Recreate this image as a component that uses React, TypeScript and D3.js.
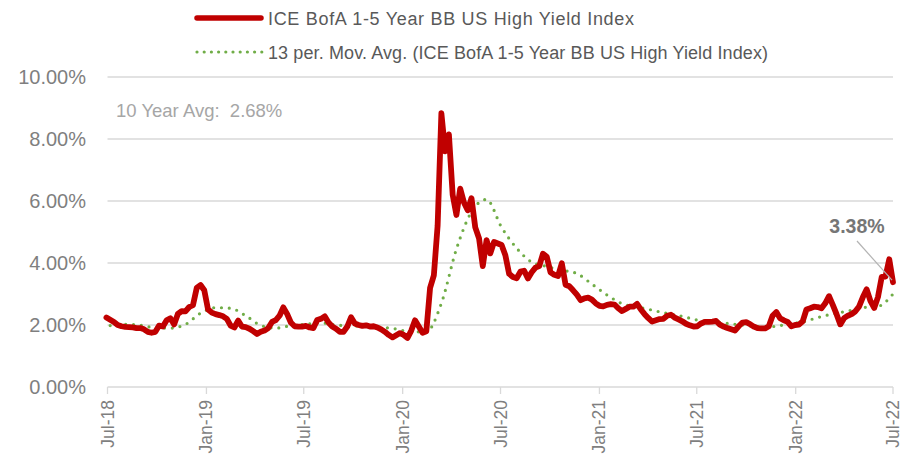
import React from 'react';
import * as d3 from 'd3';

const W = 917;
const H = 464;

// Weekly observations, starting Friday 2018-06-29
const startDate = new Date(2018, 5, 29);
const hyValues: number[] = [
  2.24, 2.17, 2.10, 2.00, 1.96, 1.94, 1.93, 1.92, 1.90, 1.90,
  1.86, 1.78, 1.75, 1.78, 1.98, 1.95, 2.15, 2.22, 2.02, 2.36,
  2.45, 2.44, 2.58, 2.64, 3.20, 3.29, 3.12, 2.50, 2.40, 2.35,
  2.32, 2.28, 2.20, 1.98, 1.92, 2.14, 1.95, 1.93, 1.88, 1.80,
  1.71, 1.78, 1.82, 1.90, 2.10, 2.16, 2.30, 2.57, 2.36, 2.08,
  1.96, 1.95, 1.95, 1.97, 1.92, 1.90, 2.16, 2.20, 2.28, 2.08,
  1.95, 1.88, 1.78, 1.78, 1.95, 2.25, 2.05, 2.00, 1.97, 1.99,
  1.95, 1.96, 1.92, 1.86, 1.78, 1.68, 1.60, 1.67, 1.74, 1.68,
  1.58, 1.82, 2.15, 1.95, 1.75, 1.80, 3.20, 3.60, 5.20, 8.83,
  7.60, 8.15, 6.20, 5.55, 6.40, 5.95, 5.70, 6.09, 5.15, 4.80,
  3.90, 4.74, 4.31, 4.68, 4.63, 4.58, 4.25, 3.65, 3.55, 3.51,
  3.72, 3.75, 3.50, 3.70, 3.85, 3.90, 4.30, 4.20, 3.70, 3.62,
  3.58, 3.99, 3.30, 3.25, 3.12, 2.98, 2.80, 2.86, 2.88, 2.82,
  2.70, 2.62, 2.60, 2.65, 2.67, 2.66, 2.54, 2.45, 2.52, 2.59,
  2.59, 2.68, 2.50, 2.35, 2.22, 2.11, 2.15, 2.19, 2.20, 2.30,
  2.33, 2.24, 2.18, 2.12, 2.04, 1.99, 1.95, 1.96, 2.05, 2.10,
  2.10, 2.11, 2.13, 2.01, 1.95, 1.90, 1.86, 1.82, 1.96, 2.08,
  2.09, 2.03, 1.95, 1.90, 1.89, 1.89, 1.96, 2.30, 2.42, 2.22,
  2.15, 2.10, 1.96, 2.00, 2.01, 2.12, 2.50, 2.54, 2.59, 2.58,
  2.54, 2.70, 2.93, 2.65, 2.35, 2.02, 2.22, 2.30, 2.35, 2.44,
  2.60, 2.90, 3.15, 2.78, 2.55, 2.90, 3.55, 3.56, 4.12, 3.38,
];

// 13-period moving average, read every 4th week (weeks 1, 5, 9, ... 209)
const maFirstWeek = 1;
const maWeekStep = 4;
const maValues: number[] = [
  1.98, 2.02, 1.99, 1.91, 1.90, 2.02, 2.38, 2.56, 2.54, 2.30,
  1.99, 1.90, 1.98, 2.02, 2.07, 2.00, 1.97, 1.97, 1.93, 1.87,
  1.78, 1.78, 2.70, 4.45, 5.65, 6.05, 5.15, 4.48, 4.03, 3.89,
  3.77, 3.66, 3.32, 2.97, 2.69, 2.58, 2.48, 2.37, 2.28, 2.16,
  2.11, 2.05, 2.00, 1.95, 1.95, 2.03, 2.10, 2.24, 2.36, 2.45,
  2.56, 2.60, 3.00,
];

const yTicks = [0, 2, 4, 6, 8, 10];
const xDomain = [new Date(2018, 6, 1), new Date(2022, 6, 1)];
const xTickDates = d3.timeMonth.range(new Date(2018, 6, 1), new Date(2022, 6, 2), 6);
const seriesName = 'ICE BofA 1-5 Year BB US High Yield Index';
const maName = '13 per. Mov. Avg. (ICE BofA 1-5 Year BB US High Yield Index)';
const avgLabel = '10 Year Avg:  2.68%';
const lastLabel = '3.38%';

const FONT = "'Liberation Sans', Arial, sans-serif";
const RED = '#c00000';
const GREEN = '#70ad47';
const GRID = '#d9d9d9';
const TXT = '#7f7f7f';

export default function App() {
  const x = d3.scaleTime().domain(xDomain).range([107.5, 893]);
  const y = d3.scaleLinear().domain([0, 10]).range([387, 77]);

  const hy = hyValues.map((v, i) => ({ d: d3.timeDay.offset(startDate, 7 * i), v }));
  const ma = maValues.map((v, i) => ({
    d: d3.timeDay.offset(startDate, 7 * (maFirstWeek + i * maWeekStep)),
    v,
  }));

  const hyLine = d3
    .line<{ d: Date; v: number }>()
    .x((p) => x(p.d))
    .y((p) => y(p.v))
    .curve(d3.curveLinear);
  const maLine = d3
    .line<{ d: Date; v: number }>()
    .x((p) => x(p.d))
    .y((p) => y(p.v))
    .curve(d3.curveMonotoneX);

  const fmtTick = d3.timeFormat('%b-%y');
  const last = hy[hy.length - 1];
  const [x0, x1] = x.range();

  return (
    <svg
      width={W}
      height={H}
      style={{ position: 'absolute', left: 0, top: 0, background: '#fff' }}
      fontFamily={FONT}
    >
      {/* gridlines */}
      {yTicks.slice(1).map((t) => (
        <line key={t} x1={x0} x2={x1} y1={y(t)} y2={y(t)} stroke={GRID} strokeWidth={1.3} />
      ))}
      {/* x axis */}
      <line x1={x0} x2={x1} y1={y(0)} y2={y(0)} stroke={GRID} strokeWidth={1.3} />
      {xTickDates.map((d, i) => (
        <g key={i} transform={`translate(${x(d)},0)`}>
          <line y1={y(0)} y2={y(0) + 7} stroke={GRID} strokeWidth={1.3} />
          <text
            transform={`translate(6,${y(0) + 13}) rotate(-90)`}
            textAnchor="end"
            fontSize={17.5}
            fill={TXT}
          >
            {fmtTick(d)}
          </text>
        </g>
      ))}
      {/* y labels */}
      {yTicks.map((t) => (
        <text key={t} x={86} y={y(t) + 7} textAnchor="end" fontSize={20} fill={TXT}>
          {d3.format('.2f')(t)}%
        </text>
      ))}

      {/* moving average */}
      <path
        d={maLine(ma) || ''}
        fill="none"
        stroke={GREEN}
        strokeWidth={3.2}
        strokeLinecap="round"
        strokeDasharray="0 7.8"
      />
      {/* series */}
      <path
        d={hyLine(hy) || ''}
        fill="none"
        stroke={RED}
        strokeWidth={5.8}
        strokeLinejoin="round"
        strokeLinecap="round"
      />

      {/* annotations */}
      <text x={116} y={117} fontSize={18.5} fill="#a6a6a6" style={{ whiteSpace: 'pre' }}>
        {avgLabel}
      </text>
      <line x1={857} y1={241} x2={x(last.d) - 1} y2={y(last.v) - 2} stroke="#b3b3b3" strokeWidth={1.2} />
      <text x={857} y={233} textAnchor="middle" fontSize={19.5} fontWeight="bold" fill="#767676">
        {lastLabel}
      </text>

      {/* legend */}
      <line x1={197} x2={261} y1={18} y2={18} stroke={RED} strokeWidth={5.5} strokeLinecap="round" />
      <text x={268} y={24.5} fontSize={18} fill="#595959" textLength={366} lengthAdjust="spacing">
        {seriesName}
      </text>
      <line
        x1={197}
        x2={262}
        y1={52}
        y2={52}
        stroke={GREEN}
        strokeWidth={3.2}
        strokeLinecap="round"
        strokeDasharray="0 7.2"
      />
      <text x={268} y={58.5} fontSize={18} fill="#595959" textLength={500} lengthAdjust="spacing">
        {maName}
      </text>
    </svg>
  );
}
